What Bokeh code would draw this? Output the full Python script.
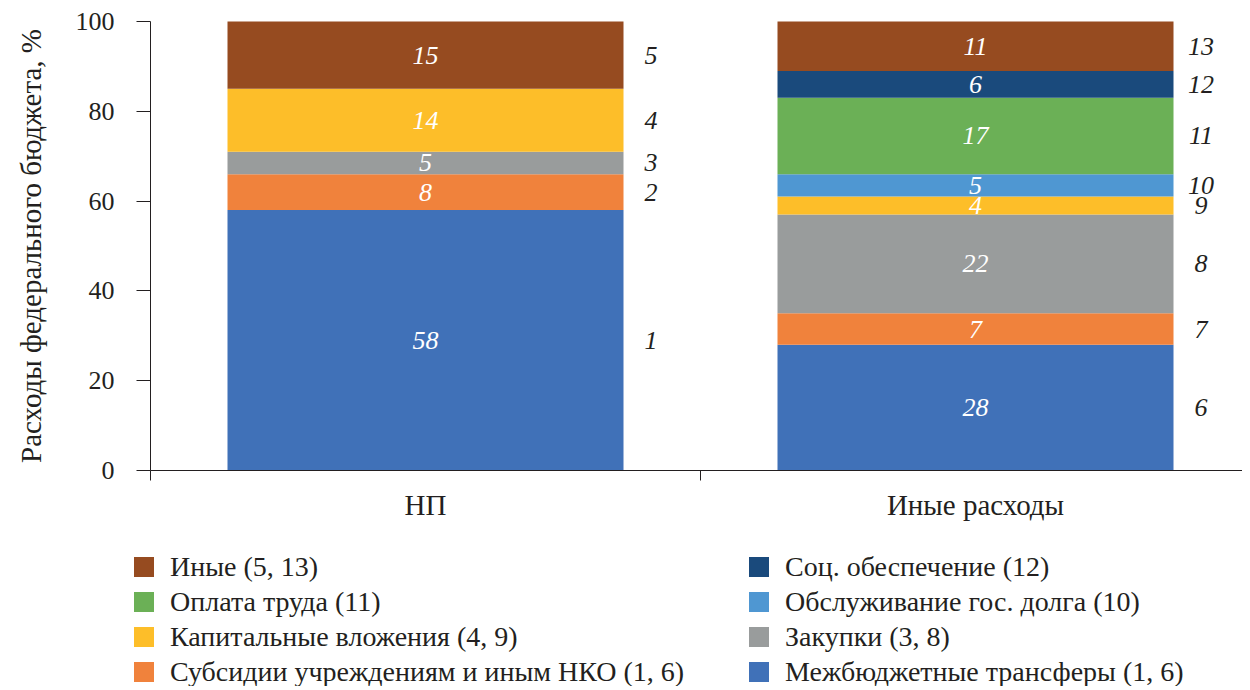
from bokeh.plotting import figure
from bokeh.models import Range1d, FixedTicker, Legend, LegendItem, ColumnDataSource
from bokeh.core.properties import value
from bokeh.embed import file_html
from bokeh.resources import INLINE

# ---- data ----
categories = ["НП", "Иные расходы"]
series_names = ["Межбюджетные трансферы", "Субсидии учреждениям и иным НКО", "Закупки",
                "Капитальные вложения", "Обслуживание гос. долга", "Оплата труда",
                "Соц. обеспечение", "Иные"]
legend_refs = ["1, 6", "1, 6", "3, 8", "4, 9", "10", "11", "12", "5, 13"]
transfers = [58, 28]
subsidies = [8, 7]
purchases = [5, 22]
capital = [14, 4]
debt_service = [0, 5]
wages = [0, 17]
social = [0, 6]
other = [15, 11]
y_ticks = [0, 20, 40, 60, 80, 100]

series_values = [transfers, subsidies, purchases, capital, debt_service, wages, social, other]
colors = ["#4071B8", "#F0823C", "#999C9C", "#FDBE29", "#4F97D2", "#6BB056", "#1A4A7C", "#964B20"]

FONT = "Liberation Serif"
DARK = "#231F20"

# ---- layout geometry (pixels) ----
W, H = 1242, 686
AX_LEFT, AX_TOP, AX_BOTTOM = 150, 21, 470      # where the plotting area sits
XPX = 550.0                                     # pixels per category
YPX = (AX_BOTTOM - AX_TOP) / 100.0              # pixels per percent

keys = ["s%d" % i for i in range(len(series_values))]
xpos = [i + 0.5 for i in range(len(categories))]
data = {"x": xpos}
for k, vals in zip(keys, series_values):
    data[k] = vals
source = ColumnDataSource(data)

x_end = (W - AX_LEFT) / XPX
p = figure(width=W, height=H, output_backend="svg", toolbar_location=None,
           x_range=Range1d(-AX_LEFT / XPX, x_end),
           y_range=Range1d(100 - (H - AX_TOP) / YPX, 100 + AX_TOP / YPX),
           min_border_left=0, min_border_top=0, min_border_right=0, min_border_bottom=0)
p.outline_line_color = None
p.xgrid.visible = False
p.ygrid.visible = False

renderers = p.vbar_stack(keys, x="x", width=0.72, color=colors, line_width=0, source=source)

# value labels inside segments and segment numbers on the right
in_x, in_y, in_t = [], [], []
num_x, num_y, num_t = [], [], []
n = 0
for ci, cx in enumerate(xpos):
    base = 0
    for vals in series_values:
        v = vals[ci]
        if v > 0:
            n += 1
            mid = base + v / 2
            in_x.append(cx); in_y.append(mid); in_t.append(str(v))
            num_x.append(cx + 0.41); num_y.append(mid); num_t.append(str(n))
        base += v

p.text(x=in_x, y=in_y, text=in_t, text_color="white", text_font=value(FONT),
       text_font_style="italic", text_font_size="26px", text_align="center",
       text_baseline="middle")
p.text(x=num_x, y=num_y, text=num_t, text_color=DARK, text_font=value(FONT),
       text_font_style="italic", text_font_size="26px", text_align="center",
       text_baseline="middle")

# axes (pinned to the data origin so the plotting area can also hold the legend)
xa = p.xaxis[0]
xa.fixed_location = 0
xa.bounds = (0, x_end)
xa.ticker = FixedTicker(ticks=xpos, minor_ticks=list(range(len(categories) + 1)))
xa.major_label_overrides = {x: c for x, c in zip(xpos, categories)}
xa.major_tick_out = 0
xa.major_tick_in = 0
xa.minor_tick_out = 10
xa.minor_tick_in = 0
xa.major_label_standoff = 8
for ax in (p.xaxis[0], p.yaxis[0]):
    ax.axis_line_color = DARK
    ax.major_tick_line_color = DARK
    ax.minor_tick_line_color = DARK
    ax.major_label_text_font = FONT
    ax.major_label_text_color = DARK
    ax.axis_label_text_font = FONT
    ax.axis_label_text_font_size = "29px"
    ax.axis_label_text_font_style = "normal"
    ax.axis_label_text_color = DARK
xa.major_label_text_font_size = "29px"

ya = p.yaxis[0]
ya.fixed_location = 0
ya.bounds = (0, 100)
ya.major_label_text_font_size = "26px"
ya.ticker = FixedTicker(ticks=y_ticks)
ya.major_tick_out = 14
ya.major_tick_in = 0
ya.minor_tick_out = 0
ya.minor_tick_in = 0
ya.major_label_standoff = 22
ya.axis_label = "Расходы федерального бюджета, %"
ya.axis_label_standoff = 26

def item(i):
    return LegendItem(label="%s (%s)" % (series_names[i], legend_refs[i]), renderers=[renderers[i]])

common = dict(glyph_width=25, glyph_height=25, label_text_font=FONT, label_text_font_size="28px",
              label_text_color=DARK, label_standoff=14, label_height=35, spacing=0,
              padding=0, margin=0, border_line_color=None, background_fill_alpha=0)
leg1 = Legend(items=[item(7), item(5), item(3), item(1)], location=(131, -3), **common)
leg2 = Legend(items=[item(6), item(4), item(2), item(0)], location=(746, -3), **common)
p.add_layout(leg1, "center")
p.add_layout(leg2, "center")

open("out.html", "w").write(file_html(p, INLINE))
